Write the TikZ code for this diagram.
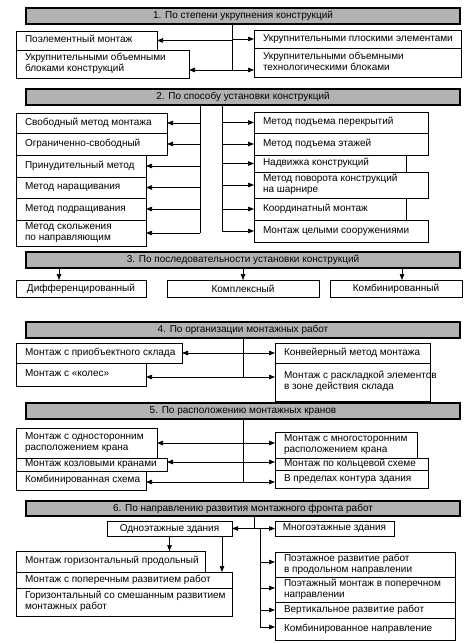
\documentclass[tikz,border=0pt]{standalone}
\usepackage{fontspec}
\setmainfont{Liberation Sans}
\usetikzlibrary{arrows.meta}
\newcommand{\lbx}[6]{%
  \pgfmathsetmacro\bw{#4-#2-18}\pgfmathsetmacro\bh{#5-#3}%
  \node[lbox, minimum height=\bh pt] (#1) at (#2,#3)
    {\makebox[\bw pt][l]{\begin{tabular}{@{}l@{}}#6\end{tabular}}};}
\newcommand{\cbx}[6]{%
  \pgfmathsetmacro\bw{#4-#2-18}\pgfmathsetmacro\bh{#5-#3}%
  \node[lbox, minimum height=\bh pt] (#1) at (#2,#3)
    {\makebox[\bw pt][c]{#6}};}
\newcommand{\hdr}[4]{%
  \pgfmathsetmacro\bh{#3-#2}\pgfmathsetmacro\by{(#2+#3)/2}%
  \node[hbox, minimum height=\bh pt] (#1) at (243,\by) {#4};}
\begin{document}
\begin{tikzpicture}[x=1pt,y=-1pt,
  lbox/.style={draw, line width=0.8pt, anchor=north west, inner xsep=9pt,
    inner ysep=0pt, outer sep=0pt, font=\fontsize{10}{11}\selectfont},
  hbox/.style={draw, line width=1.6pt, fill=black!30, inner sep=0pt,
    outer sep=0pt, minimum width=434pt, font=\fontsize{10}{11}\selectfont},
  conn/.style={line width=0.7pt},
  arr/.style={conn, -{Triangle[length=6pt,width=4.5pt]}}]
\useasboundingbox (0,0) rectangle (474,644);

% ---------- 1
\hdr{h1}{8}{24}{1. По степени укрупнения конструкций}
\lbx{a1}{16}{31}{157}{50}{Поэлементный монтаж}
\lbx{a2}{16}{50}{189}{78}{Укрупнительными объемными\\блоками конструкций}
\lbx{a3}{254}{30}{461}{48}{Укрупнительными плоскими элементами}
\lbx{a4}{254}{48}{461}{77}{Укрупнительными объемными\\технологическими блоками}
\coordinate (t1) at (232,70);
\draw[conn] (h1.south -| t1) -- (t1);
\draw[arr] (a1.east -| t1) -- (a1.east);
\draw[arr] (a3.west -| t1) -- (a3.west);
\draw[arr] (t1) -- (t1 -| a2.east);
\draw[arr] (t1) -- (t1 -| a4.west);

% ---------- 2
\hdr{h2}{89}{105}{2. По способу установки конструкций}
\lbx{b1}{16}{113}{167}{133}{Свободный метод монтажа}
\lbx{b2}{16}{133}{167}{155}{Ограниченно-свободный}
\lbx{b3}{16}{155}{146}{177}{Принудительный метод}
\lbx{b4}{16}{177}{146}{198}{Метод наращивания}
\lbx{b5}{16}{198}{146}{220}{Метод подращивания}
\lbx{b6}{16}{220}{146}{246}{Метод скольжения\\по направляющим}
\lbx{b7}{254}{112}{428}{133}{Метод подъема перекрытий}
\lbx{b8}{254}{133}{428}{155}{Метод подъема этажей}
\lbx{b9}{254}{155}{406}{172}{Надвижка конструкций}
\lbx{b10}{254}{172}{428}{198}{Метод поворота конструкций\\на шарнире}
\lbx{b11}{254}{198}{406}{220}{Координатный монтаж}
\lbx{b12}{254}{220}{428}{242}{Монтаж целыми сооружениями}
\coordinate (t2l) at (200,0);
\coordinate (t2r) at (222,0);
\draw[conn] (h2.south -| t2l) -- (b6.east -| t2l);
\draw[conn] (h2.south -| t2r) -- (b12.west -| t2r);
\foreach \n in {b1,b2,b3,b4,b5,b6} \draw[arr] (\n.east -| t2l) -- (\n.east);
\foreach \n in {b7,b8,b9,b10,b11,b12} \draw[arr] (\n.west -| t2r) -- (\n.west);

% ---------- 3
\hdr{h3}{252}{268}{3. По последовательности установки конструкций}
\cbx{c1}{16}{280}{146}{297}{Дифференцированный}
\cbx{c2}{167}{280}{319}{297}{Комплексный}
\cbx{c3}{330}{280}{462}{297}{Комбинированный}
\coordinate (x31) at (59,0);
\coordinate (x32) at (243,0);
\coordinate (x33) at (402,0);
\draw[arr] (h3.south -| x31) -- (c1.north -| x31);
\draw[arr] (h3.south -| x32) -- (c2.north -| x32);
\draw[arr] (h3.south -| x33) -- (c3.north -| x33);

% ---------- 4
\hdr{h4}{322}{338}{4. По организации монтажных работ}
\lbx{d1}{16}{343}{182}{363}{Монтаж с приобъектного склада}
\lbx{d2}{16}{363}{146}{386}{Монтаж с «колес»}
\lbx{d3}{275}{343}{430}{363}{Конвейерный метод монтажа}
\lbx{d4}{275}{363}{430}{401}{Монтаж с раскладкой элементов\\в зоне действия склада}
\coordinate (t4) at (243,377);
\draw[conn] (h4.south -| t4) -- (t4);
\draw[arr] (d1.east -| t4) -- (d1.east);
\draw[arr] (d3.west -| t4) -- (d3.west);
\draw[arr] (t4) -- (t4 -| d2.east);
\draw[arr] (t4) -- (t4 -| d4.west);

% ---------- 5
\hdr{h5}{403}{419}{5. По расположению монтажных кранов}
\lbx{e1}{16}{428}{157}{458}{Монтаж с односторонним\\расположением крана}
\lbx{e2}{16}{458}{167}{471}{Монтаж козловыми кранами}
\lbx{e3}{16}{471}{146}{490}{Комбинированная схема}
\lbx{e4}{275}{432}{417}{458}{Монтаж с многосторонним\\расположением крана}
\lbx{e5}{275}{458}{428}{470}{Монтаж по кольцевой схеме}
\lbx{e6}{275}{470}{428}{488}{В пределах контура здания}
\coordinate (c51) at (243,443);
\coordinate (c52) at (243,462);
\coordinate (c53) at (243,482);
\draw[conn] (h5.south -| c53) -- (c53);
\foreach \p/\l/\r in {c51/e1/e4, c52/e2/e5, c53/e3/e6} {
  \draw[arr] (\p) -- (\p -| \l.east);
  \draw[arr] (\p) -- (\p -| \r.west);}

% ---------- 6
\hdr{h6}{501}{516}{6. По направлению развития монтажного фронта работ}
\cbx{f1}{107}{521}{232}{536}{Одноэтажные здания}
\cbx{f2}{275}{521}{394}{536}{Многоэтажные здания}
\lbx{g1}{16}{551}{205}{572}{Монтаж горизонтальный продольный}
\lbx{g2}{16}{572}{232}{588}{Монтаж с поперечным развитием работ}
\lbx{g3}{16}{588}{232}{616}{Горизонтальный со смешанным развитием\\монтажных работ}
\lbx{k1}{275}{552}{455}{577}{Поэтажное развитие работ\\в продольном направлении}
\lbx{k2}{275}{577}{455}{602}{Поэтажный монтаж в поперечном\\направлении}
\lbx{k3}{275}{602}{455}{618}{Вертикальное развитие работ}
\lbx{k4}{275}{618}{455}{640}{Комбинированное направление}
\coordinate (j6) at (254,528.5);
\coordinate (s6) at (260,528.5);
\draw[conn] (h6.south -| j6) -- (j6);
\draw[arr] (j6) -- (j6 -| f1.east);
\draw[arr] (j6) -- (j6 -| f2.west);
\coordinate (m1) at (260,562);
\coordinate (m2) at (260,588);
\coordinate (m3) at (260,610);
\coordinate (m4) at (260,627);
\draw[conn] (s6) -- (m4);
\foreach \m/\k in {m1/k1, m2/k2, m3/k3, m4/k4} \draw[arr] (\m) -- (\m -| \k.west);
\draw[arr] (f1.south) -- (f1.south |- g1.north);
\coordinate (x62) at (222,0);
\draw[arr] (f1.south -| x62) -- (g2.north -| x62);
\end{tikzpicture}
\end{document}
